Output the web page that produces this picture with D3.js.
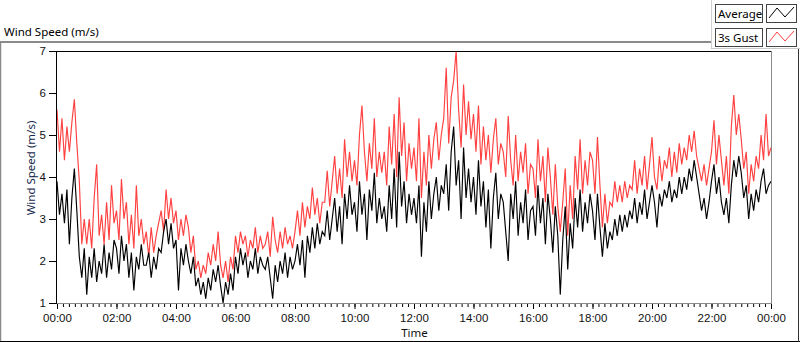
<!DOCTYPE html>
<html>
<head>
<meta charset="utf-8">
<script src="https://cdn.jsdelivr.net/npm/d3@7"></script>
<style>
body { margin: 0; background: #fff; }
svg { display: block; font-family: "Noto Sans", sans-serif; }
</style>
</head>
<body>
<script>
// readings every 5 minutes, 00:00 -> 24:00 (m/s)
var avgSpeed = [
  3.9, 3.1, 3.6, 2.9, 3.7, 2.4, 3.5, 4.2, 3.2, 2.1, 1.6, 2.3,
  1.2, 2.1, 1.6, 2.3, 1.5, 2.0, 1.7, 2.4, 1.6, 2.2, 1.8, 2.5,
  2.3, 1.7, 2.6, 2.0, 2.4, 1.6, 2.2, 1.3, 2.1, 1.8, 2.4, 1.9,
  1.9, 2.2, 1.6, 2.1, 1.8, 2.3, 2.2, 2.7, 3.0, 2.4, 2.9, 2.3,
  2.5, 1.3, 2.3, 1.9, 2.4, 2.0, 1.7, 2.1, 1.4, 1.6, 1.2, 1.5,
  1.1, 1.6, 1.3, 1.8, 1.5, 1.9, 1.4, 1.0, 1.5, 1.2, 1.7, 1.3,
  2.1, 1.7, 2.3, 1.9, 2.2, 1.6, 2.0, 1.8, 2.3, 1.7, 2.1, 1.9,
  1.8, 2.1, 1.6, 1.1, 1.9, 1.5, 2.0, 1.7, 2.2, 1.6, 2.1, 1.8,
  2.0, 2.4, 1.9, 2.5, 1.6, 2.6, 2.2, 2.8, 2.3, 2.9, 2.4, 2.7,
  2.6, 3.2, 2.5, 3.0, 3.5, 2.7, 3.3, 2.4, 3.6, 3.0, 3.8, 3.1,
  3.4, 2.7, 3.9, 3.1, 3.6, 2.5, 3.7, 3.2, 4.1, 2.9, 3.5, 3.0,
  3.3, 2.7, 3.8, 3.0, 4.2, 2.8, 4.6, 3.3, 3.9, 2.9, 3.6, 3.1,
  3.5, 2.9, 3.8, 2.1, 3.4, 2.7, 3.9, 3.0, 3.6, 4.0, 3.2, 3.8,
  3.6, 4.3, 3.2, 4.6, 5.2, 3.8, 4.4, 3.0, 4.7, 3.5, 4.2, 3.4,
  4.0, 3.1, 4.4, 3.3, 3.9, 2.8, 3.7, 2.3, 3.5, 4.1, 3.0, 3.6,
  3.4, 2.7, 2.0, 3.6, 3.0, 3.9, 2.6, 3.4, 2.9, 3.7, 2.5, 3.2,
  3.3, 2.6, 3.8, 2.9, 3.5, 2.4, 3.6, 3.0, 2.2, 3.3, 2.6, 1.2,
  2.5, 3.3, 1.8, 2.9, 2.3, 3.5, 2.8, 3.7, 2.7, 3.4, 2.9, 3.6,
  3.2, 2.5, 3.6, 2.8, 2.1, 2.9, 2.3, 2.7, 2.5, 3.0, 2.6, 3.1,
  2.7, 3.1, 2.8, 3.2, 3.0, 3.5, 2.9, 3.4, 3.1, 3.7, 3.0, 3.4,
  3.8, 3.4, 2.8, 3.6, 3.3, 3.7, 3.5, 3.9, 3.4, 3.7, 3.5, 4.0,
  3.6, 4.0, 3.7, 4.2, 3.9, 4.4, 4.0, 3.6, 3.2, 3.5, 3.0, 3.4,
  3.9, 4.3, 3.6, 4.0, 3.4, 3.1, 3.5, 2.9, 3.8, 4.4, 4.0, 4.5,
  4.1, 3.5, 3.8, 3.0, 3.6, 3.2, 3.7, 3.4, 3.9, 4.2, 3.6, 3.8, 3.9
];
var gustSpeed = [
  5.6, 4.6, 5.4, 4.4, 5.2, 4.6, 5.3, 5.85, 4.8, 3.9, 2.4, 3.0,
  2.4, 3.0, 2.3, 3.5, 4.3, 2.6, 3.1, 2.4, 3.4, 2.5, 3.8, 2.9,
  3.2, 2.5, 3.95, 3.0, 3.4, 2.4, 3.1, 2.3, 3.8, 2.6, 3.0, 2.4,
  2.7, 2.1, 2.8, 2.2, 2.6, 2.9, 3.2, 2.7, 3.7, 3.0, 3.5, 2.9,
  3.2, 2.5, 3.0, 2.6, 3.1, 2.8, 2.2, 2.6, 1.8, 2.0, 1.6, 1.9,
  1.7, 2.2, 1.9, 2.4, 2.0, 2.7, 1.9, 1.6, 2.0, 1.5, 2.1, 1.8,
  2.6, 2.2, 2.7, 2.4, 2.6, 2.1, 2.5, 2.3, 2.8, 2.2, 2.6, 2.3,
  2.4, 2.7, 2.1, 3.05, 2.5, 2.2, 2.7, 2.3, 2.8, 2.4, 2.6, 2.3,
  2.7, 3.2, 2.6, 3.4, 2.8, 3.3, 3.0, 3.75, 3.1, 3.5, 2.9, 3.4,
  3.4, 4.15, 3.3, 3.9, 4.5, 3.6, 4.2, 3.5, 4.9, 4.0, 4.6, 3.9,
  4.4, 3.8, 5.0, 5.7, 4.6, 3.9, 4.8, 4.2, 5.4, 4.0, 4.6, 4.1,
  4.6, 3.8, 5.2, 4.3, 5.5, 4.0, 5.9, 4.5, 5.3, 3.9, 4.8, 4.2,
  4.7, 3.9, 5.4, 3.5, 4.6, 3.8, 5.0, 4.2, 4.9, 5.3, 4.4, 5.0,
  5.4, 6.6, 4.8, 5.9, 6.3, 7.0, 5.6, 4.7, 6.2, 5.0, 5.8, 4.9,
  5.5, 4.6, 5.7, 4.3, 5.2, 4.4, 5.0, 4.1, 4.9, 5.4, 4.3, 4.8,
  4.6, 4.0, 5.45, 4.4, 3.8, 5.0, 3.9, 4.6, 4.1, 4.8, 3.6, 4.3,
  4.2, 3.5, 4.9, 3.9, 4.5, 3.4, 4.7, 4.0, 3.1, 4.3, 3.3, 2.7,
  3.4, 4.2, 2.6, 3.8, 3.0, 4.5, 3.7, 4.9, 3.6, 4.4, 3.8, 4.6,
  4.4, 3.6, 4.95, 3.8, 2.8, 3.6, 2.9, 3.4, 3.3, 3.9, 3.4, 3.8,
  3.4, 3.9, 3.5, 3.8, 3.7, 4.4, 3.6, 4.2, 3.8, 4.5, 3.7, 4.3,
  4.95, 4.0, 3.7, 4.5, 3.9, 4.4, 4.2, 4.7, 4.0, 4.6, 4.1, 4.8,
  4.3, 4.7, 4.4, 5.0, 4.6, 5.1, 4.5, 4.2, 3.9, 4.3, 3.8, 4.2,
  4.6, 5.35, 4.3, 5.0, 4.4, 3.8, 4.5, 3.6, 5.2, 5.95, 5.0, 5.5,
  4.9, 4.2, 4.6, 3.6, 4.3, 3.9, 4.5, 4.2, 5.0, 4.4, 5.5, 4.5, 4.7
];
var stepMinutes = 5;
var timeLabels = ["00:00", "02:00", "04:00", "06:00", "08:00", "10:00", "12:00",
                  "14:00", "16:00", "18:00", "20:00", "22:00", "00:00"];
var yTicks = [1, 2, 3, 4, 5, 6, 7];
var seriesNames = ["Average", "3s Gust"];
var seriesColors = ["#000000", "#ff4141"];

var width = 800, height = 342;
var plot = {left: 57, top: 51, right: 772, bottom: 303};

var x = d3.scaleLinear().domain([0, 1440]).range([plot.left, plot.right - 1]);
var y = d3.scaleLinear().domain([1, 7]).range([plot.bottom, plot.top]);

var svg = d3.select("body").append("svg")
    .attr("width", width)
    .attr("height", height);

// outer panel frame
svg.append("line").attr("x1", 0).attr("x2", 711).attr("y1", 42).attr("y2", 42)
    .attr("stroke", "#8a8a8a").attr("stroke-width", 2);
svg.append("line").attr("x1", 0.5).attr("x2", 0.5).attr("y1", 41).attr("y2", 342)
    .attr("stroke", "#8a8a8a").attr("stroke-width", 1.5);
svg.append("line").attr("x1", 0).attr("x2", 800).attr("y1", 341.5).attr("y2", 341.5)
    .attr("stroke", "#000");
svg.append("line").attr("x1", 798.5).attr("x2", 798.5).attr("y1", 48).attr("y2", 342)
    .attr("stroke", "#333");
svg.append("line").attr("x1", 711.5).attr("x2", 711.5).attr("y1", 0).attr("y2", 48)
    .attr("stroke", "#d0d0d0");
svg.append("line").attr("x1", 711).attr("x2", 800).attr("y1", 48.5).attr("y2", 48.5)
    .attr("stroke", "#c8c8c8");

// chart title
svg.append("text").attr("x", 4).attr("y", 36)
    .style("font-size", "11.5px").attr("fill", "#000")
    .text("Wind Speed (m/s)");

// plot area
svg.append("rect").attr("x", plot.left).attr("y", plot.top)
    .attr("width", plot.right - plot.left).attr("height", plot.bottom - plot.top)
    .attr("fill", "#fff");

var lineGen = d3.line()
    .x(function(d, i) { return x(i * stepMinutes); })
    .y(function(d) { return y(d); });

svg.append("path").datum(gustSpeed)
    .attr("d", lineGen)
    .attr("fill", "none").attr("stroke", seriesColors[1]).attr("stroke-width", 1.15);
svg.append("path").datum(avgSpeed)
    .attr("d", lineGen)
    .attr("fill", "none").attr("stroke", seriesColors[0]).attr("stroke-width", 1.15);

// plot borders: dark top/left, grey bottom/right
svg.append("line").attr("x1", plot.left - 0.5).attr("x2", plot.right).attr("y1", plot.top + 0.5).attr("y2", plot.top + 0.5)
    .attr("stroke", "#000");
svg.append("line").attr("x1", plot.left - 0.5).attr("x2", plot.left - 0.5).attr("y1", plot.top).attr("y2", plot.bottom + 1)
    .attr("stroke", "#000");
svg.append("line").attr("x1", plot.right - 0.5).attr("x2", plot.right - 0.5).attr("y1", plot.top).attr("y2", plot.bottom + 1)
    .attr("stroke", "#8a8a8a");
svg.append("line").attr("x1", plot.left).attr("x2", plot.right).attr("y1", plot.bottom + 0.5).attr("y2", plot.bottom + 0.5)
    .attr("stroke", "#8a8a8a");

// y axis
var yAxis = d3.axisLeft(y).tickValues(yTicks).tickSize(7).tickPadding(3)
    .tickFormat(d3.format("d"));
var gy = svg.append("g")
    .attr("transform", "translate(" + (plot.left - 1) + ",0)")
    .call(yAxis);
gy.select(".domain").remove();
gy.selectAll("text").style("font-size", "11.5px").attr("fill", "#111");

// x axis: minor ticks every 12 minutes, labels every 2 hours
var xMinor = d3.axisBottom(x).tickValues(d3.range(0, 1441, 12)).tickSize(3).tickFormat("");
var gxm = svg.append("g")
    .attr("transform", "translate(0," + (plot.bottom + 1) + ")")
    .call(xMinor);
gxm.select(".domain").remove();

var xAxis = d3.axisBottom(x).tickValues(d3.range(0, 1441, 120)).tickSize(5).tickPadding(5)
    .tickFormat(function(d, i) { return timeLabels[i]; });
var gx = svg.append("g")
    .attr("transform", "translate(0," + (plot.bottom + 1) + ")")
    .call(xAxis);
gx.select(".domain").remove();
gx.selectAll("text").style("font-size", "11.5px").attr("fill", "#111");

// axis titles
svg.append("text")
    .attr("transform", "translate(35,168) rotate(-90)")
    .attr("text-anchor", "middle")
    .style("font-size", "11.5px").attr("fill", "#16284a")
    .text("Wind Speed (m/s)");
svg.append("text")
    .attr("x", (plot.left + plot.right) / 2).attr("y", 337)
    .attr("text-anchor", "middle")
    .style("font-size", "11.5px").attr("fill", "#111")
    .text("Time");

// legend
var legend = svg.selectAll(".legend")
    .data(seriesNames)
  .enter().append("g")
    .attr("class", "legend")
    .attr("transform", function(d, i) { return "translate(0," + (i * 24) + ")"; });

legend.append("rect")
    .attr("x", 715.5).attr("y", 4.5).attr("width", 47).attr("height", 18)
    .attr("fill", "#fff").attr("stroke", "#444");
legend.append("text")
    .attr("x", 718).attr("y", 18)
    .style("font-size", "11.5px").attr("fill", "#000")
    .text(function(d) { return d; });
legend.append("rect")
    .attr("x", 766.5).attr("y", 4.5).attr("width", 30).attr("height", 18)
    .attr("fill", "#fff").attr("stroke", "#444");
legend.append("polyline")
    .attr("points", "769,18 777,8 785,17 794,7")
    .attr("fill", "none")
    .attr("stroke", function(d, i) { return seriesColors[i]; });
</script>
</body>
</html>
